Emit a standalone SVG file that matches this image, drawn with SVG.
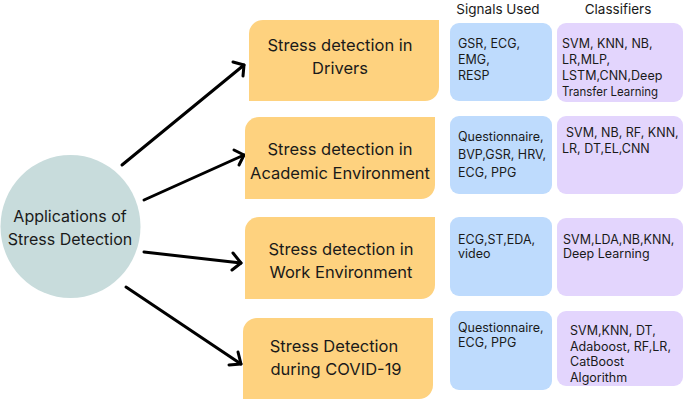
<svg xmlns="http://www.w3.org/2000/svg" width="685" height="402" viewBox="0 0 685 402">
<defs>
<style>
text{font-family:Inter,"Noto Sans","Liberation Sans",sans-serif;fill:#1a1a1a}
.big{font-size:16.5px;text-anchor:middle}
.ctr{font-size:16px;text-anchor:middle}
.hdr{font-size:13.5px;text-anchor:middle}
.sm{font-size:12.5px}
.org{fill:#FED27F}
.blu{fill:#BEDBFD}
.pur{fill:#E3D5FD}
.conn line,.conn polyline{stroke:#000;stroke-width:3;fill:none;stroke-linecap:round;stroke-linejoin:round}
</style>
</defs>
<rect width="685" height="402" fill="#fff"/>
<g id="center">
<ellipse cx="70.5" cy="226.5" rx="70" ry="71.5" fill="#C8DCDC"/>
<text class="ctr" x="70" y="222">Applications of</text>
<text class="ctr" x="70" y="245">Stress Detection</text>
</g>
<g class="conn">
<line x1="122" y1="165" x2="244" y2="65"/>
<polyline points="233,62 244,65 243,76"/>
<line x1="144" y1="200" x2="244" y2="155"/>
<polyline points="234,150 244,155 239,165"/>
<line x1="144" y1="252" x2="241" y2="263"/>
<polyline points="233,253 241,263 232,270"/>
<line x1="126" y1="287" x2="241" y2="364"/>
<polyline points="238,352 241,364 229,365"/>
</g>
<g id="app1">
<path class="org" d="M263,20H439V87A14,14 0 0 1 425,101H249V34A14,14 0 0 1 263,20Z"/>
<text class="big" x="340" y="51">Stress detection in</text>
<text class="big" x="340" y="74">Drivers</text>
</g>
<g id="app2">
<path class="org" d="M259,117H435V185A14,14 0 0 1 421,199H245V131A14,14 0 0 1 259,117Z"/>
<text class="big" x="340" y="155">Stress detection in</text>
<text class="big" x="340" y="179">Academic Environment</text>
</g>
<g id="app3">
<path class="org" d="M259,217H435V285A14,14 0 0 1 421,299H245V231A14,14 0 0 1 259,217Z"/>
<text class="big" x="341" y="255">Stress detection in</text>
<text class="big" x="341" y="278">Work Environment</text>
</g>
<g id="app4">
<path class="org" d="M257,318H433V385A14,14 0 0 1 419,399H243V332A14,14 0 0 1 257,318Z"/>
<text class="big" x="334" y="352">Stress Detection</text>
<text class="big" x="336" y="375">during COVID-19</text>
</g>
<g id="hdr-signals"><text class="hdr" x="498" y="14">Signals Used</text></g>
<g id="hdr-classifiers"><text class="hdr" x="618" y="14">Classifiers</text></g>
<g id="sig1">
<rect class="blu" x="450" y="23" width="102" height="78" rx="9"/>
<text class="sm" x="458" y="48">GSR, ECG,</text>
<text class="sm" x="458" y="64">EMG,</text>
<text class="sm" x="458" y="80">RESP</text>
</g>
<g id="cls1">
<rect class="pur" x="557" y="23" width="126" height="79" rx="9"/>
<text class="sm" x="562" y="48">SVM, KNN, NB,</text>
<text class="sm" x="562" y="64">LR,MLP,</text>
<text class="sm" x="562" y="80">LSTM,CNN,Deep</text>
<text class="sm" x="562" y="96" textLength="96" lengthAdjust="spacingAndGlyphs">Transfer Learning</text>
</g>
<g id="sig2">
<rect class="blu" x="450" y="116" width="102" height="78" rx="9"/>
<text class="sm" x="458" y="141">Questionnaire,</text>
<text class="sm" x="458" y="159">BVP,GSR, HRV,</text>
<text class="sm" x="458" y="177">ECG, PPG</text>
</g>
<g id="cls2">
<rect class="pur" x="557" y="116" width="126" height="78" rx="9"/>
<text class="sm" x="566" y="137">SVM, NB, RF, KNN,</text>
<text class="sm" x="562" y="153">LR, DT,EL,CNN</text>
</g>
<g id="sig3">
<rect class="blu" x="450" y="217" width="102" height="79" rx="9"/>
<text class="sm" x="458" y="244">ECG,ST,EDA,</text>
<text class="sm" x="458" y="258">video</text>
</g>
<g id="cls3">
<rect class="pur" x="557" y="218" width="126" height="78" rx="9"/>
<text class="sm" x="563" y="244">SVM,LDA,NB,KNN,</text>
<text class="sm" x="563" y="258">Deep Learning</text>
</g>
<g id="sig4">
<rect class="blu" x="450" y="311" width="102" height="79" rx="9"/>
<text class="sm" x="458" y="332">Questionnaire,</text>
<text class="sm" x="458" y="347">ECG, PPG</text>
</g>
<g id="cls4">
<rect class="pur" x="557" y="311" width="126" height="75" rx="9"/>
<text class="sm" x="570" y="335">SVM,KNN, DT,</text>
<text class="sm" x="570" y="351">Adaboost, RF,LR,</text>
<text class="sm" x="570" y="366">CatBoost</text>
<text class="sm" x="570" y="382">Algorithm</text>
</g>
</svg>
